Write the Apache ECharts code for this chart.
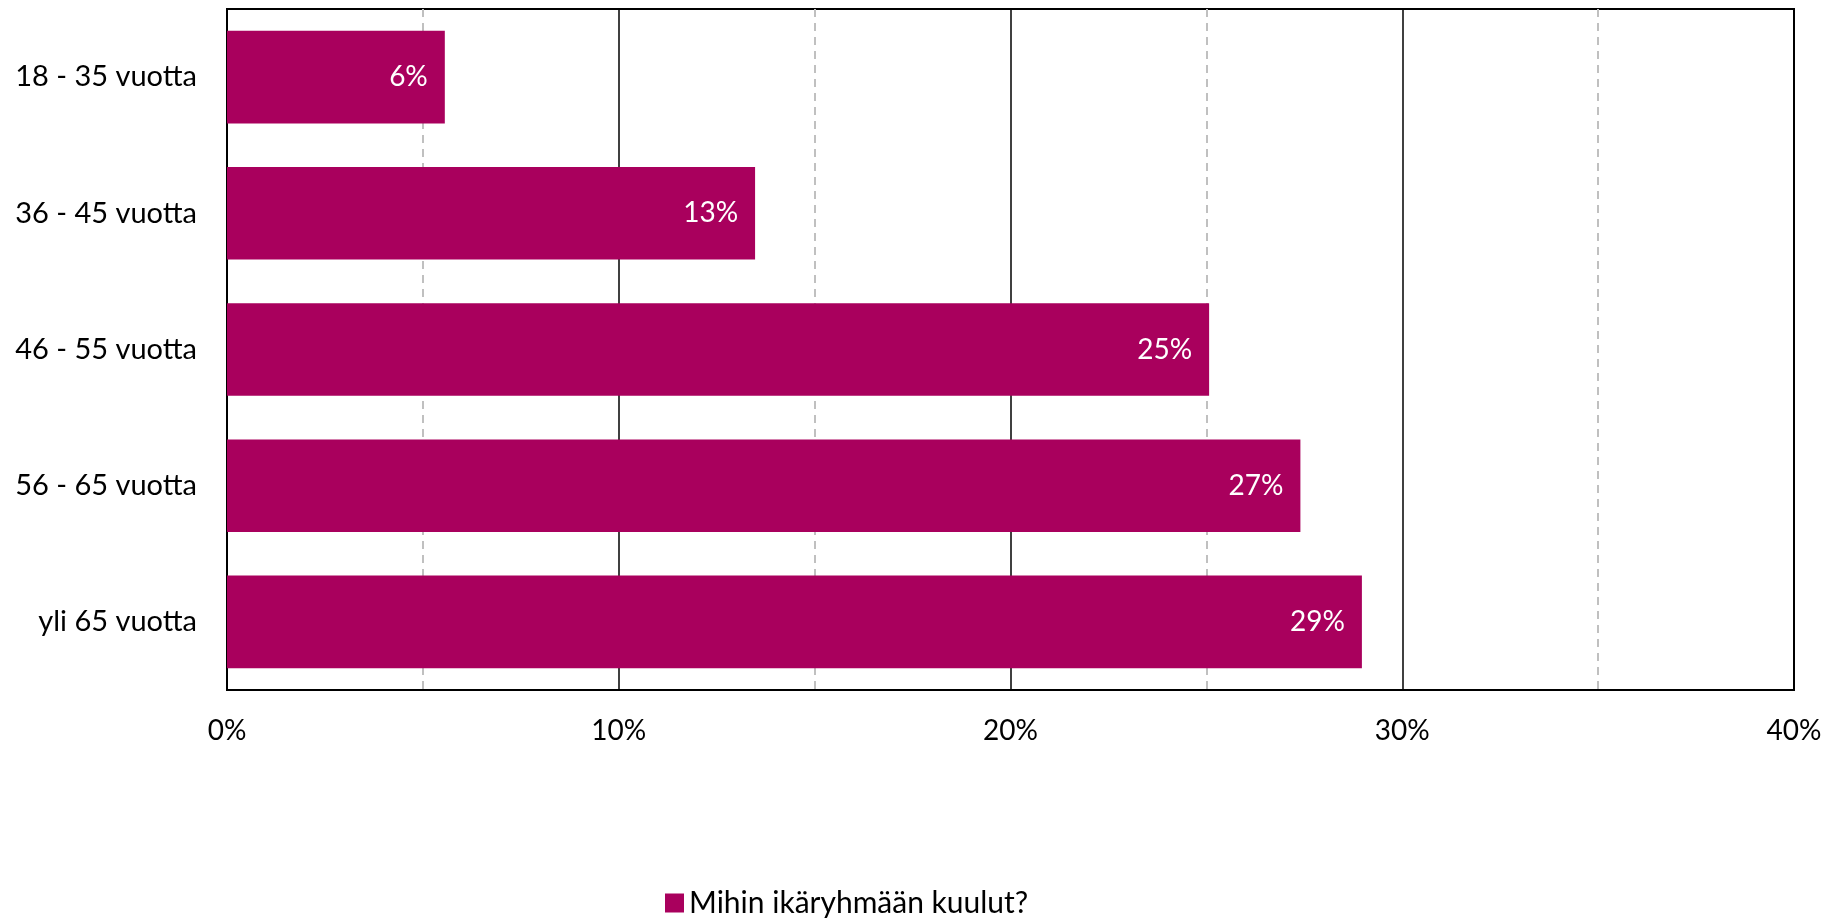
<!DOCTYPE html>
<html>
<head>
<meta charset="utf-8">
<script src="https://cdn.jsdelivr.net/npm/echarts@6/dist/echarts.min.js"></script>
<style>
html,body{margin:0;padding:0;background:#fff;}
#chart{width:1841px;height:919px;}
</style>
</head>
<body>
<div id="chart"></div>
<script>
const categories = ['18 - 35 vuotta', '36 - 45 vuotta', '46 - 55 vuotta', '56 - 65 vuotta', 'yli 65 vuotta'];
const values = [5.56, 13.48, 25.07, 27.40, 28.97];
const seriesName = 'Mihin ikäryhmään kuulut?';
const xTicks = [0, 10, 20, 30, 40];

const FONT = 'Lato';
const chart = echarts.init(document.getElementById('chart'), null, {renderer: 'canvas'});
chart.setOption({
  animation: false,
  backgroundColor: '#ffffff',
  textStyle: {fontFamily: FONT},
  legend: {
    data: [seriesName],
    left: 660,
    top: 883,
    icon: 'rect',
    itemWidth: 19,
    itemHeight: 19,
    itemGap: 10,
    textStyle: {fontSize: 30, color: '#000', fontFamily: FONT}
  },
  grid: {
    left: 227, right: 47, top: 9, bottom: 229,
    show: true, borderColor: '#000', borderWidth: 2, backgroundColor: 'transparent'
  },
  xAxis: {
    type: 'value',
    min: xTicks[0], max: xTicks[xTicks.length - 1], interval: 10,
    axisLine: {show: false},
    axisTick: {show: false},
    axisLabel: {formatter: v => v + '%', fontSize: 28, color: '#000', margin: 27, fontFamily: FONT},
    splitLine: {show: true, lineStyle: {color: '#000', width: 1.5}},
    minorTick: {show: false, splitNumber: 2},
    minorSplitLine: {show: true, lineStyle: {color: '#c0c0c0', width: 2, type: [8, 6]}}
  },
  yAxis: {
    type: 'category',
    data: categories,
    inverse: true,
    axisLine: {show: true, lineStyle: {color: '#000', width: 2}},
    axisTick: {show: false},
    axisLabel: {fontSize: 29, color: '#000', margin: 30, fontFamily: FONT}
  },
  series: [{
    name: seriesName,
    type: 'bar',
    data: values,
    barCategoryGap: '32%',
    itemStyle: {color: '#A9005D'},
    label: {
      show: true,
      position: 'insideRight',
      distance: 17,
      color: '#fff',
      fontSize: 28,
      fontFamily: FONT,
      formatter: p => Math.round(p.value) + '%'
    }
  }]
});
</script>
</body>
</html>
